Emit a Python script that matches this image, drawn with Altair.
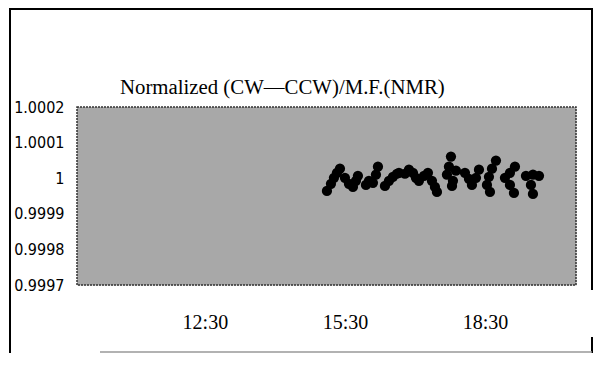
import altair as alt
import pandas as pd

# --- data (time in decimal hours, normalized ratio) ---
time_h = [
    15.114, 15.200, 15.264, 15.328, 15.393,
    15.500, 15.586, 15.671, 15.735, 15.778,
    15.950, 16.014, 16.100, 16.164, 16.207,
    16.357, 16.443, 16.528, 16.614, 16.657,
    16.785, 16.871, 16.957, 17.021, 17.085,
    17.193, 17.278, 17.364, 17.428, 17.471,
    17.771, 17.728, 17.685, 17.814, 17.878, 17.793,
    18.071, 18.157, 18.221, 18.307, 18.371,
    18.735, 18.650, 18.585, 18.542, 18.607,
    19.142, 19.035, 18.928, 19.035, 19.121,
    19.378, 19.528, 19.657, 19.485, 19.528,
]
ratio = [
    0.9999642, 0.9999841, 1.0000011, 1.0000153, 1.0000267,
    1.0000011, 0.9999841, 0.9999756, 0.9999926, 1.0000068,
    0.9999812, 0.9999926, 0.9999869, 1.0000097, 1.0000324,
    0.9999784, 0.9999926, 1.0000040, 1.0000125, 1.0000153,
    1.0000125, 1.0000239, 1.0000153, 1.0000011, 0.9999926,
    1.0000068, 1.0000153, 0.9999926, 0.9999756, 0.9999614,
    1.0000608, 1.0000324, 1.0000097, 0.9999926, 1.0000210, 0.9999784,
    1.0000153, 0.9999983, 0.9999812, 1.0000011, 1.0000239,
    1.0000494, 1.0000267, 1.0000040, 0.9999812, 0.9999614,
    1.0000324, 1.0000153, 1.0000011, 0.9999812, 0.9999585,
    1.0000068, 1.0000097, 1.0000068, 0.9999812, 0.9999557,
]
x_ticks = [12.5, 15.5, 18.5]
x_tick_labels = ["12:30", "15:30", "18:30"]
y_ticks = [0.9997, 0.9998, 0.9999, 1.0, 1.0001, 1.0002]
title_text = "Normalized (CW\u2014CCW)/M.F.(NMR)"

df = pd.DataFrame({"t": time_h, "v": ratio})

label_map = "{" + ",".join(f"'{k}':'{l}'" for k, l in zip(x_ticks, x_tick_labels)) + "}"

serif = "Liberation Serif, Times New Roman, serif"
narrow = "DejaVu Sans Condensed, Liberation Sans Narrow, Liberation Sans, sans-serif"

W, H = 499, 178

bg = alt.Chart(pd.DataFrame({"k": [0]})).mark_rect(
    fill="#a8a8a8", stroke="#333333", strokeWidth=1.5, strokeDash=[2, 1]
).encode(x=alt.value(0), x2=alt.value(W), y=alt.value(0), y2=alt.value(H))

points = alt.Chart(df).mark_circle(size=105, color="#000000", opacity=1).encode(
    x=alt.X(
        "t:Q",
        scale=alt.Scale(domain=[9.76, 20.45], nice=False, zero=False),
        axis=alt.Axis(
            values=x_ticks,
            labelExpr=label_map + "[toString(datum.value)] || ''",
            grid=False, domain=False, ticks=False,
            labelFont=serif, labelFontSize=20, labelColor="#000",
            labelPadding=27, title=None,
        ),
    ),
    y=alt.Y(
        "v:Q",
        scale=alt.Scale(domain=[0.9997, 1.0002], nice=False, zero=False),
        axis=alt.Axis(
            values=y_ticks,
            labelExpr="datum.value == 1 ? '1' : format(datum.value, '.4f')",
            grid=False, domain=False, ticks=False,
            labelFont=narrow, labelFontSize=16, labelColor="#000",
            labelPadding=13, title=None,
        ),
    ),
)

title = alt.Chart(pd.DataFrame({"s": [title_text]})).mark_text(
    align="left", baseline="middle", font=serif, fontSize=20.8, color="#000"
).encode(x=alt.value(43), y=alt.value(-19), text="s:N")

frame_df = pd.DataFrame({"k": [0]})
def rule(x, x2, y, y2, color="#000", w=2):
    return alt.Chart(frame_df).mark_rule(color=color, strokeWidth=w).encode(
        x=alt.value(x), x2=alt.value(x2), y=alt.value(y), y2=alt.value(y2)
    )

frame = (
    rule(-67, -67, -99, 246)
    + rule(-68, 515, -98, -98)
    + rule(515, 515, -99, 183)
    + rule(515, 515, 230, 246)
    + rule(23, 515, 245, 245, color="#999", w=1.5)
)

chart = alt.layer(bg, points, title, frame).properties(
    width=W,
    height=H,
    padding={"left": 69, "top": 99, "right": 17, "bottom": 68},
    autosize=alt.AutoSizeParams(type="none"),
).configure_view(stroke=None).configure(background="white")

chart.save("out.html", embed_options={"renderer": "svg", "actions": False})
